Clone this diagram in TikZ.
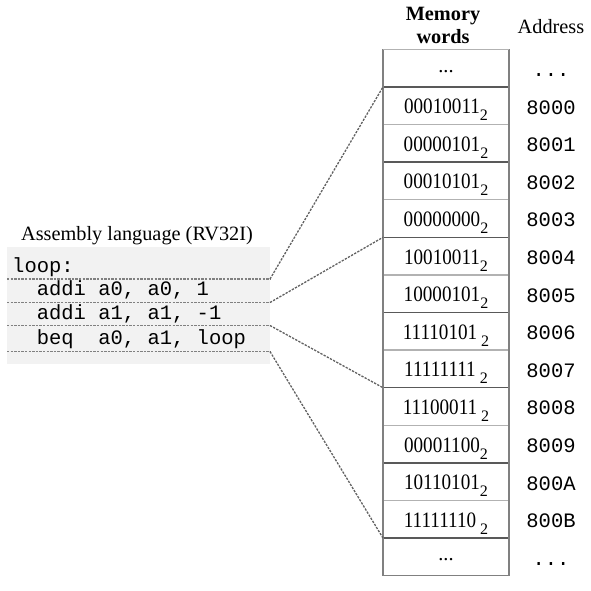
\documentclass[tikz,border=0pt]{standalone}
\usepackage{fontspec}
\setmainfont{Liberation Serif}
\setmonofont{Liberation Mono}
\usepackage{graphicx}
\newcommand\bval[2]{\scalebox{0.87}[1]{\fontsize{22}{24}\selectfont #1}\hspace{#2}\raisebox{-7pt}{\fontsize{16}{16}\selectfont 2}}
\newcommand\threedots{...}
\begin{document}
\begin{tikzpicture}[x=1pt,y=-1pt,
  serif/.style={font=\fontsize{20.3}{24}\selectfont, inner sep=0pt},
  mono/.style={font=\fontsize{20.5}{24}\selectfont\ttfamily, inner sep=0pt},
  sepline/.style={draw=black!50, line width=1.3pt, dash pattern=on 2.3pt off 1.3pt},
  conn/.style={draw=black!62, line width=1.3pt, dash pattern=on 2.3pt off 1.3pt},
  darkrule/.style={draw=black!65, line width=1.5pt},
  lightrule/.style={draw=black!30, line width=1.5pt},
  cell/.style={minimum width=126pt, minimum height=37.6pt, inner sep=0pt, outer sep=0pt}]
\useasboundingbox (0,0) rectangle (591,590);

% assembly block
\fill[black!5] (7,247) rectangle (270,364);
\node[serif, anchor=base] (title) at (137,240) {Assembly language (RV32I)};
\node[mono, anchor=base west] (l0) at (12,272) {loop:};
\node[mono, anchor=base west] (l1) at (36.6,295.5) {addi a0, a0, 1};
\node[mono, anchor=base west] (l2) at (36.6,319) {addi a1, a1, -1};
\node[mono, anchor=base west] (l3) at (36.6,344) {beq\ \ a0, a1, loop};
\foreach \k/\yy in {1/279,2/302.5,3/325.5,4/351.5}{
  \coordinate (sl\k) at (7,\yy);
  \coordinate (sr\k) at (270,\yy);
  \draw[sepline] (sl\k) -- (sr\k);
}

% memory cells
\foreach \i in {0,1,2,3,4,5,6,7,8,9,10,11,12,13}{
  \node[cell] (m\i) at (446,{49.3+37.6*\i+18.8}) {};
}
\foreach \i in {1,3,5,7,9,11,13}{
  \draw[darkrule] (m\i.north west) -- (m\i.north east);
}
\foreach \i in {2,4,6,8,10,12}{
  \draw[lightrule] (m\i.north west) -- (m\i.north east);
}
\draw[draw=black!50, line width=1.5pt] (m0.north west) -- (m13.south west);
\draw[draw=black!50, line width=1.5pt] (m0.north east) -- (m13.south east);
\draw[lightrule] (m0.north west) -- (m0.north east);
\draw[draw=black!50, line width=1.5pt] (m13.south west) -- (m13.south east);

% headers
\node[serif, anchor=base, font=\fontsize{20.3}{24}\selectfont\bfseries] (hm1) at (443,20) {Memory};
\node[serif, anchor=base, font=\fontsize{20.3}{24}\selectfont\bfseries] (hm2) at (443,43) {words};
\node[serif, anchor=base] (ha) at (551,33) {Address};

% values
\foreach \i/\v/\g in {1/00010011/0pt,2/00000101/0pt,3/00010101/0pt,4/00000000/0pt,
  5/10010011/0pt,6/10000101/0pt,7/11110101/4pt,8/11111111/4pt,9/11100011/4pt,
  10/00001100/0pt,11/10110101/0pt,12/11111110/4pt}{
  \node[inner sep=0pt, anchor=base] (v\i) at ([yshift=-8pt]m\i.center) {\bval{\v}{\g}};
}
\node[serif, anchor=base] (v0) at ([yshift=-4pt]m0.center) {\threedots};
\node[serif, anchor=base] (v13) at ([yshift=-4pt]m13.center) {\threedots};

% addresses
\foreach \i/\a in {0/\threedots,1/8000,2/8001,3/8002,4/8003,5/8004,6/8005,7/8006,8/8007,
  9/8008,10/8009,11/800A,12/800B,13/\threedots}{
  \node[mono, anchor=base] (a\i) at ([xshift=105pt,yshift=-8.4pt]m\i.center) {\a};
}

% connectors
\draw[conn] (sr1) -- (m1.north west);
\draw[conn] (sr2) -- (m5.north west);
\draw[conn] (sr3) -- (m9.north west);
\draw[conn] (sr4) -- (m13.north west);
\end{tikzpicture}
\end{document}
